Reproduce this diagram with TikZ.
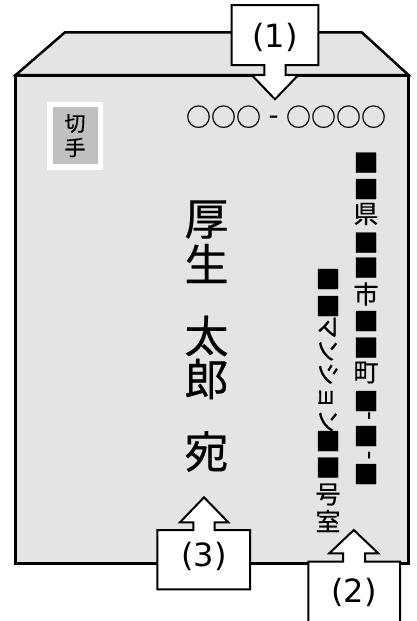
\documentclass[tikz,border=0pt]{standalone}
\usepackage{fontspec}
\setmainfont{Noto Sans CJK JP}[FakeBold=0.5]
\newfontfamily\callfont{DejaVu Sans}
\definecolor{envgray}{HTML}{E4E4E4}
\definecolor{stampgray}{HTML}{C0C0C0}
\begin{document}
\begin{tikzpicture}[x=1pt,y=-1pt,
  ch/.style={inner sep=0pt,outer sep=0pt,anchor=center},
  namech/.style={ch,font=\fontsize{44}{50}\selectfont},
  addr/.style={ch,font=\fontsize{25}{30}\selectfont},
  kana/.style={ch,font=\fontsize{23.5}{27}\selectfont},
  stampch/.style={ch,font=\fontsize{21}{24}\selectfont},
  calltxt/.style={ch,font=\callfont\fontsize{32}{38}\selectfont},
  callout/.style={draw=black,fill=white,line width=2pt,line join=miter}]
\clip (0,0) rectangle (417,621);
% envelope
\draw[fill=envgray,line width=2.5pt,line join=miter] (15.7,75) -- (65,32.3) -- (361.7,32.3) -- (408.5,75) -- cycle;
\draw[fill=envgray,line width=3pt] (15.7,75) rectangle (408.5,563);
% stamp
\fill[white] (46.7,101.7) rectangle (103.3,170);
\fill[stampgray] (52.7,107.3) rectangle (97.7,164);
\node[stampch] (s1) at (75,123.5) {切};
\node[stampch] (s2) at (75,147.5) {手};
% postal code
\foreach \i/\x in {1/198.5,2/223.5,3/248.5,4/298.5,5/323.5,6/348.5,7/373.5}
  \node[addr] (pc\i) at (\x,116.7) {○};
\node[addr,font=\fontsize{28}{30}\selectfont] (pch) at (273.5,120) {-};
% name
\node[namech] (n1) at (206.5,219.5) {厚};
\node[namech] (n2) at (206.5,263.5) {生};
\node[namech] (n3) at (206.5,336) {太};
\node[namech] (n4) at (206.5,379) {郎};
\node[namech] (n5) at (206.5,451.5) {宛};
% address column 1
\foreach \i/\y/\c in {1/162.5/■,2/189/■,3/214/県,4/242.5/■,5/267.5/■,6/294/市,7/321/■,8/347.5/■,9/372.5/町,10/401/■,11/436/■,12/474/■}
  \node[addr] (a\i) at (366,\y) {\c};
\node[addr,rotate=-90] (ah1) at (366,415.5) {-};
\node[addr,rotate=-90] (ah2) at (366,455) {-};
% address column 2
\foreach \i/\y/\c in {1/279/■,2/306/■,3/441/■,4/467.5/■,5/494.5/号,6/521/室}
  \node[addr] (b\i) at (328,\y) {\c};
\node[kana,rotate=-90] (bm) at (328,374) {マンション};
% callout (1)
\draw[callout] (231.7,5) -- (318.3,5) -- (318.3,65) -- (285.7,65) -- (285.7,75) -- (298.3,75) -- (275,99.3) -- (251.7,75) -- (264.3,75) -- (264.3,65) -- (231.7,65) -- cycle;
\node[calltxt] (c1) at (275,37.5) {(1)};
% callout (3)
\draw[callout] (157.3,589.3) -- (157.3,530) -- (193.3,530) -- (193.3,522.3) -- (180,522.3) -- (204,497.3) -- (228.3,522.3) -- (214.5,522.3) -- (214.5,530) -- (250,530) -- (250,589.3) -- cycle;
\node[calltxt] (c3) at (204,556) {(3)};
% callout (2)
\draw[callout] (308.3,630) -- (308.3,561.7) -- (343,561.7) -- (343,553.3) -- (329.3,553.3) -- (353.8,530) -- (378.3,553.3) -- (365,553.3) -- (365,561.7) -- (400,561.7) -- (400,630);
\node[calltxt] (c2) at (354,592) {(2)};
\end{tikzpicture}
\end{document}
